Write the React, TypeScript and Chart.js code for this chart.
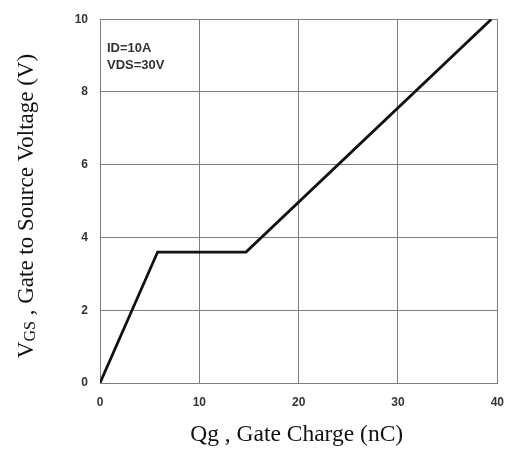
import React, { useEffect, useRef } from "react";
import { Chart, registerables } from "chart.js";

Chart.register(...registerables);

const qg = [0, 5.8, 14.7, 39.4];
const vgs = [0, 3.6, 3.6, 10];
const xTicks = [0, 10, 20, 30, 40];
const yTicks = [0, 2, 4, 6, 8, 10];
const notes = ["ID=10A", "VDS=30V"];
const xTitle = "Qg , Gate Charge (nC)";
const yTitleMain = "V";
const yTitleSub = "GS";
const yTitleRest = " , Gate to Source Voltage (V)";

const SERIF = "'Liberation Serif', 'DejaVu Serif', serif";
const SANS = "'Liberation Sans', Arial, sans-serif";
const GRID = "#7e7e7e";

const titlesPlugin = {
  id: "titles",
  afterDraw(chart: any) {
    const ctx = chart.ctx as CanvasRenderingContext2D;
    const area = chart.chartArea;
    ctx.save();
    ctx.fillStyle = "#333";
    ctx.font = `bold 13px ${SANS}`;
    ctx.textAlign = "left";
    ctx.textBaseline = "middle";
    notes.forEach((t, i) => ctx.fillText(t, area.left + 7, area.top + 29 + i * 17));
    ctx.fillStyle = "#111";
    ctx.font = `23.5px ${SERIF}`;
    ctx.textAlign = "center";
    ctx.textBaseline = "alphabetic";
    ctx.fillText(xTitle, (area.left + area.right) / 2 - 2, 441);
    ctx.translate(33, 206);
    ctx.rotate(-Math.PI / 2);
    ctx.textAlign = "left";
    const mainFont = `23px ${SERIF}`;
    const subFont = `16px ${SERIF}`;
    ctx.font = mainFont;
    const w1 = ctx.measureText(yTitleMain).width;
    const w3 = ctx.measureText(yTitleRest).width;
    ctx.font = subFont;
    const w2 = ctx.measureText(yTitleSub).width;
    const total = w1 + w2 + w3;
    let x = -total / 2;
    ctx.font = mainFont;
    ctx.fillText(yTitleMain, x, 0);
    x += w1;
    ctx.font = subFont;
    ctx.fillText(yTitleSub, x, 2);
    x += w2;
    ctx.font = mainFont;
    ctx.fillText(yTitleRest, x, 0);
    ctx.restore();
  },
};

export default function App() {
  const ref = useRef<HTMLCanvasElement>(null);
  useEffect(() => {
    document.body.style.margin = "0";
    const chart = new Chart(ref.current!, {
      type: "scatter",
      data: {
        datasets: [
          {
            data: qg.map((x, i) => ({ x, y: vgs[i] })),
            showLine: true,
            borderColor: "#111",
            borderWidth: 2.8,
            pointRadius: 0,
            fill: false,
          },
        ],
      },
      options: {
        animation: false,
        responsive: true,
        maintainAspectRatio: false,
        layout: { padding: { left: 0, top: 17, right: 13, bottom: 0 } },
        plugins: { legend: { display: false }, tooltip: { enabled: false } },
        scales: {
          x: {
            type: "linear",
            min: 0,
            max: 40,
            afterFit: (s: any) => {
              s.height = 67;
            },
            afterBuildTicks: (s: any) => {
              s.ticks = xTicks.map((v) => ({ value: v }));
            },
            grid: { color: GRID, lineWidth: 1, drawTicks: false },
            border: { display: true, color: GRID, width: 1 },
            ticks: {
              padding: 12,
              color: "#333",
              font: { family: SANS, weight: "bold", size: 12 },
            },
          },
          y: {
            type: "linear",
            min: 0,
            max: 10,
            afterFit: (s: any) => {
              s.width = 100;
            },
            afterBuildTicks: (s: any) => {
              s.ticks = yTicks.map((v) => ({ value: v }));
            },
            grid: { color: GRID, lineWidth: 1, drawTicks: false },
            border: { display: true, color: GRID, width: 1 },
            ticks: {
              padding: 12,
              color: "#333",
              font: { family: SANS, weight: "bold", size: 12 },
            },
          },
        },
      },
      plugins: [titlesPlugin],
    });
    return () => chart.destroy();
  }, []);
  return (
    <div style={{ position: "relative", width: 516, height: 450, background: "#fff" }}>
      <canvas ref={ref} />
    </div>
  );
}
